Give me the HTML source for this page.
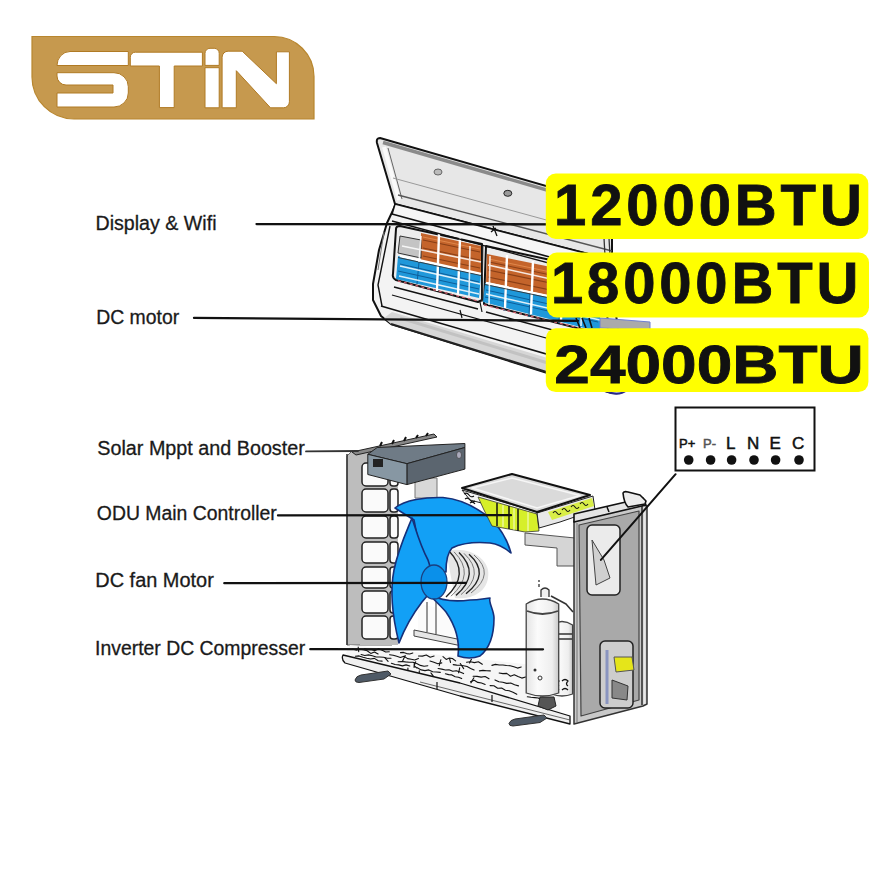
<!DOCTYPE html>
<html><head><meta charset="utf-8">
<style>
html,body{margin:0;padding:0;background:#fff;}
body{width:890px;height:890px;overflow:hidden;position:relative;font-family:"Liberation Sans",sans-serif;}
svg{position:absolute;left:0;top:0;}
.lbl{font-family:"Liberation Sans",sans-serif;font-size:20px;fill:#1a1a1a;stroke:#1a1a1a;stroke-width:0.3px;}
.btu{font-family:"Liberation Sans",sans-serif;font-weight:bold;font-size:58px;fill:#111;stroke:#111;stroke-width:0.8px;}
</style></head>
<body>
<svg width="890" height="890" viewBox="0 0 890 890">
<!-- LOGO -->
<g id="logo">
<path d="M32,36.5 H274 A40,40 0 0 1 314,76.5 V119 H74 A42,42 0 0 1 32,77 Z" fill="#C6994E" stroke="#B8862E" stroke-width="1.2"/>
<g fill="#fff" stroke="#B07A24" stroke-width="1">
<path d="M57,65.5 A13,14 0 0 1 70,51.5 H128.3 V65.5 Z"/>
<path d="M57,72.7 H114 A14.3,14 0 0 1 128.3,86.7 V93 A14.3,14 0 0 1 114,107 H57 V93 H113 V85 H66 A9,9 0 0 1 57,76 Z"/>
<path d="M130.3,66 V57.2 A5,5 0 0 1 135.3,52.2 H202.4 V66 H174.2 V107.6 H159.4 V66 Z"/>
<path d="M205,65.4 V53.3 A5,5 0 0 1 210,48.3 H214.2 A5,5 0 0 1 219.2,53.3 V65.4 Z"/>
<path d="M205,67.7 H219.2 V107.8 H205 Z"/>
<path d="M222.1,107.8 V57.2 A6,6 0 0 1 228.1,51.2 H242.2 L276.4,83.7 V51.8 H289.4 V101.8 A6,6 0 0 1 283.4,107.8 H270.5 L236.3,70.7 V107.8 Z"/>
</g>
</g>

<!-- INDOOR UNIT -->
<g id="idu" stroke-linejoin="round">
<!-- body -->
<path d="M395,206 L612,262 L614,300 L626,388 Q620,396 608,392 L391,324 L381,316 L373,300 L373,284 L379,250 L387,223 Z" fill="#f3f3f3" stroke="#111" stroke-width="2"/>
<!-- underside strip -->
<path d="M392,312 L622,380 L624,392 L616,394 L391,324 L384,318 Z" fill="#d6d6d6"/>
<path d="M400,318 L620,385" stroke="#c2c2c2" stroke-width="3" fill="none"/>
<path d="M381,306 L622,376" stroke="#111" stroke-width="1.6" fill="none"/>
<path d="M391,324 L608,391" stroke="#222" stroke-width="2" fill="none"/><path d="M606,391 Q618,397 627,390" stroke="#2a2a8a" stroke-width="2" fill="none"/>
<path d="M390,226 L378,285 L382,306" stroke="#111" stroke-width="1.4" fill="none"/>
<path d="M384,232 L378,270" stroke="#777" stroke-width="1" fill="none"/>
<!-- chamber frames -->
<path d="M396,229 Q396,226 400,226 L482,244 L482,300 L478,302 L396,280 Q392,278 393,274 Z" fill="#ececec" stroke="#111" stroke-width="2"/>
<path d="M486,246 L606,272 L608,336 L484,304 Z" fill="#ececec" stroke="#111" stroke-width="2"/>
<!-- copper -->
<path d="M421,233 L481,246 L481,274 L421,261 Z" fill="#C4642B"/>
<path d="M487,254 L600,277 L600,306 L486,282 Z" fill="#C4642B"/>
<g stroke="#8a3f16" stroke-width="1.1" fill="none">
<path d="M423,240 L480,252 M423,248 L480,260 M423,256 L480,268 M489,262 L598,285 M488,270 L598,293 M488,277 L598,300"/>
</g>
<g stroke="#e0874a" stroke-width="1" fill="none">
<path d="M423,237 L480,249 M489,259 L598,282"/>
</g>
<!-- grey box left -->
<path d="M400,236 L421,240 L421,258 L398,253 Z" fill="#c4c4c4" stroke="#333" stroke-width="1"/>
<!-- blue -->
<path d="M398,256 L481,274 L479,298 L396,279 Z" fill="#1F98DA"/>
<path d="M485,283 L600,307 L600,332 L483,302 Z" fill="#1F98DA"/>
<g stroke="#0d5e9a" stroke-width="1" fill="none">
<path d="M400,264 L479,282 M398,271 L479,289 M486,290 L598,315 M485,297 L598,322"/>
<path d="M419,262 L417,284 M440,266 L438,289 M460,270 L459,294 M505,288 L504,311 M530,293 L529,317 M560,299 L559,323"/>
</g>
<!-- white grille dividers -->
<g stroke="#fff" stroke-width="2.4" fill="none">
<path d="M439,234 L437,291 M460,238 L458,296 M507,255 L505,308 M533,261 L531,314 M563,267 L561,320"/>
<path d="M400,256 L481,274 M486,283 L600,307"/>
</g>
<g stroke="#333" stroke-width="0.9" fill="none">
<path d="M398,257.5 L481,275.5 M485,284.5 L600,308.5"/>
<path d="M483,246 L482,302"/>
</g>
<g stroke="#fff" stroke-width="1.6" fill="none" opacity="0.85">
<path d="M402,246 L481,262 M400,266 L480,284 M399,276 L479,294 M488,265 L600,290 M486,294 L600,320"/>
<path d="M421,236 L419,262 M470,246 L469,296 M490,256 L489,305 M582,276 L581,326"/>
</g>
<!-- pink dashes at bottom of chambers -->
<path d="M398,281 L478,301 M484,305 L600,333" stroke="#d06070" stroke-width="1.3" stroke-dasharray="3,3" fill="none"/>
<!-- body lines under chambers -->
<path d="M394,287 L478,309 M486,312 L612,346" stroke="#111" stroke-width="1.5" fill="none"/>
<path d="M392,295 L614,357" stroke="#111" stroke-width="1.2" fill="none"/>
<path d="M480,302 L482,312 M460,310 L462,318" stroke="#111" stroke-width="1.2" fill="none"/>
<!-- lid -->
<path d="M380,138 L612,205 L612,260 L395,204 L377,143 Q376,138 380,138 Z" fill="#e7e7e7" stroke="#111" stroke-width="2"/>
<path d="M383,142.5 L612,209" stroke="#8a8a8a" stroke-width="3.5" fill="none"/>
<path d="M384,147 L399,200" stroke="#fafafa" stroke-width="4" fill="none"/>
<path d="M388,148 L402,199" stroke="#666" stroke-width="1" fill="none"/>
<path d="M393,178 L612,238" stroke="#9a9a9a" stroke-width="1" fill="none"/>
<path d="M398,195 L612,251" stroke="#555" stroke-width="1.3" fill="none"/>
<ellipse cx="438" cy="172" rx="4" ry="3" fill="#bbb" stroke="#666" stroke-width="1"/>
<ellipse cx="507.8" cy="193.3" rx="4" ry="3" fill="#999" stroke="#222" stroke-width="1"/>
<!-- hinge strip between lid and body -->
<path d="M395,204 L612,260 L612,274 L392,214 Z" fill="#f6f6f6" stroke="#111" stroke-width="1.6"/>
<path d="M392,221 L612,280" stroke="#111" stroke-width="1.3" fill="none"/>
<path d="M493,226 L497,236 M491,232 L496,228" stroke="#111" stroke-width="1.3" fill="none"/>
<path d="M604,238 L605,256 M609,238 L610,256" stroke="#333" stroke-width="1.3"/>
<path d="M576,318 L580,328 M582,318 L586,328 M589,318 L592,328" stroke="#111" stroke-width="1.6"/>
<!-- grey bar between box2/3 -->
<path d="M600,318 L650,322 L650,330 L600,328 Z" fill="#aaa" stroke="#6f7fd0" stroke-width="1"/>
</g>

<!-- OUTDOOR UNIT -->
<g id="odu" stroke-linejoin="round">
<!-- back inner (behind everything): light -->
<!-- left frame grey -->
<path d="M347,456 L352,451 L392,452 L392,645 L347,645 Z" fill="#bdbdbd" stroke="#666" stroke-width="1"/>
<path d="M352,452 L434,434 L437,437 L356,455 Z" fill="#888" stroke="#222" stroke-width="1"/>
<path d="M380,446 L382,442 M392,444 L394,440 M404,441 L406,437 M416,438 L418,435 M426,436 L428,433" stroke="#111" stroke-width="2"/>
<path d="M360,458 L392,456 L398,456 L398,645 L360,645 Z" fill="#bdbdbd"/>
<g fill="#fafafa" stroke="#222" stroke-width="1.5">
<rect x="362" y="463" width="26" height="23" rx="4"/>
<rect x="362" y="489" width="26" height="23" rx="4"/>
<rect x="362" y="516" width="26" height="22" rx="4"/>
<rect x="362" y="542" width="26" height="21" rx="4"/>
<rect x="362" y="567" width="26" height="21" rx="4"/>
<rect x="362" y="591" width="26" height="22" rx="4"/>
<rect x="362" y="616" width="26" height="23" rx="4"/>
<rect x="390" y="463" width="8" height="23" rx="3"/>
<rect x="390" y="489" width="8" height="23" rx="3"/>
<rect x="390" y="516" width="8" height="22" rx="3"/>
<rect x="390" y="542" width="8" height="21" rx="3"/>
<rect x="390" y="567" width="8" height="21" rx="3"/>
<rect x="390" y="591" width="8" height="22" rx="3"/>
<rect x="390" y="616" width="8" height="23" rx="3"/>
</g>
<path d="M347,454 L347,645" stroke="#333" stroke-width="1.5"/>
<!-- base tray -->
<path d="M350,645 L560,668 L560,714 L460,683 L345,655 Z" fill="#f6f6f6"/>
<g stroke="#111" stroke-width="1.1" fill="none" stroke-linecap="round">
<path d="M364.5,648.9 L368.0,649.8 L371.6,649.7 L375.1,650.6 L378.6,648.7 L382.2,650.3 L385.7,652.0 L389.3,651.7"/>
<path d="M400.5,652.6 L403.6,652.4 L406.6,653.6 L409.7,654.0 L412.8,653.0"/>
<path d="M418.5,656.0 L422.4,656.1 L426.3,655.0 L430.2,657.2 L434.1,656.0"/>
<path d="M443.0,656.7 L446.2,659.4 L449.3,658.1 L452.4,658.5 L455.6,660.9"/>
<path d="M466.5,662.2 L470.5,661.7 L474.4,662.6 L478.4,661.8 L482.3,664.3"/>
<path d="M491.9,665.4 L495.5,664.4 L499.2,665.0 L502.9,665.0 L506.5,665.5 L510.2,665.7 L513.9,666.8 L517.5,668.1 L521.2,667.0"/>
<path d="M530.6,669.1 L534.0,670.9 L537.3,670.4 L540.7,670.5 L544.0,671.3 L547.4,672.4"/>
<path d="M551.8,671.2 L555.5,673.6"/>
<path d="M352.4,648.9 L356.0,650.1 L359.7,649.2 L363.4,649.8 L367.1,650.8 L370.8,653.4 L374.4,652.0 L378.1,654.0"/>
<path d="M389.6,654.7 L393.2,655.3 L396.8,656.3 L400.4,657.5 L404.0,656.3 L407.6,658.6 L411.2,659.3 L414.8,660.0 L418.4,658.4"/>
<path d="M430.0,661.0 L433.9,662.3 L437.8,663.8 L441.8,662.9"/>
<path d="M453.2,664.6 L456.7,665.1 L460.1,665.3 L463.6,665.7 L467.1,666.5 L470.6,668.5 L474.1,670.0"/>
<path d="M479.4,670.9 L483.0,670.4 L486.7,670.7 L490.3,670.9"/>
<path d="M499.1,673.0 L502.9,673.6 L506.7,673.4 L510.5,676.3 L514.3,674.7 L518.0,676.5 L521.8,678.1 L525.6,677.0"/>
<path d="M535.5,680.0 L539.1,681.1 L542.7,680.0 L546.3,681.5 L550.0,681.4 L553.6,683.8"/>
<path d="M361.1,654.5 L364.8,655.5 L368.6,654.9 L372.3,655.7 L376.1,657.0 L379.8,657.0 L383.6,657.2 L387.3,658.2 L391.0,658.3"/>
<path d="M398.1,661.7 L401.8,661.5 L405.5,661.9 L409.2,662.2 L412.9,662.2 L416.7,663.4 L420.4,665.4 L424.1,666.3 L427.8,665.7"/>
<path d="M438.1,668.5 L441.8,669.1 L445.4,670.0 L449.0,669.7 L452.7,671.3 L456.3,670.8 L460.0,672.1 L463.6,673.6"/>
<path d="M473.1,676.2 L477.1,676.4 L481.1,677.1 L485.1,676.5 L489.0,678.8"/>
<path d="M495.0,679.9 L498.9,681.7 L502.8,682.2 L506.7,683.4 L510.7,683.1 L514.6,684.8 L518.5,685.9"/>
<path d="M529.1,688.6 L532.5,689.4 L535.9,689.7 L539.3,691.2 L542.7,692.0 L546.1,691.6"/>
<path d="M355.3,656.3 L359.1,655.9 L363.0,657.3 L366.8,658.2 L370.6,659.0 L374.4,658.4 L378.2,660.8 L382.1,661.1"/>
<path d="M391.4,663.3 L395.1,664.5 L398.7,664.9 L402.4,665.9 L406.1,664.9 L409.8,666.0"/>
<path d="M417.3,667.8 L421.2,669.9 L425.0,670.6 L428.8,669.9 L432.7,671.8 L436.5,672.0 L440.3,672.4"/>
<path d="M445.4,673.8 L448.7,674.6 L451.9,674.9 L455.2,676.7 L458.5,677.2 L461.7,678.6"/>
<path d="M470.5,681.7 L474.2,680.3 L477.8,682.4 L481.5,683.0 L485.2,684.4"/>
<path d="M490.1,685.6 L493.9,685.8 L497.7,688.3 L501.6,688.0 L505.4,690.2 L509.2,690.7 L513.0,692.3 L516.8,694.3"/>
<path d="M527.3,696.8 L531.0,697.3 L534.7,697.6 L538.3,698.0 L542.0,700.2 L545.7,701.1"/>
<path d="M543.9,689.7 L542.7,695.2"/>
<path d="M358.2,647.1 L358.7,651.6"/>
<path d="M385.0,657.8 L388.1,661.4"/>
<path d="M440.9,659.7 L439.2,665.6"/>
<path d="M430.9,672.9 L434.2,677.3"/>
<path d="M407.9,668.1 L407.9,671.8"/>
<path d="M419.3,670.7 L419.2,673.9"/>
<path d="M449.6,658.6 L450.5,662.4"/>
<path d="M414.3,666.0 L416.9,668.0"/>
<path d="M460.3,663.5 L463.7,668.6"/>
<path d="M405.2,655.5 L402.4,661.5"/>
<path d="M414.3,662.9 L414.1,667.5"/>
<path d="M473.9,677.8 L470.9,682.9"/>
<path d="M415.7,661.8 L414.4,665.0"/>
<path d="M459.7,667.8 L458.6,672.8"/>
<path d="M471.4,659.2 L469.5,663.0"/>
</g>
<path d="M343,655 L460,683 L570,716 L570,724 L460,696 L345,663 Q341,659 343,655 Z" fill="#f0f0f0" stroke="#111" stroke-width="1.3"/>
<path d="M420,682 L570,720" stroke="#444" stroke-width="0.8" fill="none"/>
<path d="M437,682 L437,689 M492,695 L492,702" stroke="#111" stroke-width="1.2"/>
<!-- feet -->
<path d="M355,680 Q356,676 361,675 L388,671 L391,674 L384,679 L359,682.5 Q355,682.5 355,680 Z" fill="#4f5a66" stroke="#333" stroke-width="1"/>
<path d="M509,723.5 Q510,720 515,719 L544,715 L547,718 L540,722.5 L513,726 Q509,726 509,723.5 Z" fill="#4f5a66" stroke="#333" stroke-width="1"/>
<!-- column under solar box -->
<rect x="415" y="478" width="22" height="20" fill="#d8d8d8" stroke="#777" stroke-width="1"/>
<!-- right-side inner (behind compressor) bracket -->
<path d="M525,533 L575,538 L575,566 L557,566 L557,548 L525,545 Z" fill="#d5d5d5" stroke="#555" stroke-width="1"/>
<!-- motor -->
<path d="M446,551 C470,545 492,560 488,578 C486,592 472,600 455,598 Z" fill="#e6e6e6"/>
<path d="M449,551.0 Q471,574 446,597.0" stroke="#222" stroke-width="1.4" fill="none"/>
<path d="M454,551.8 Q476,574 451,596.2" stroke="#777" stroke-width="1" fill="none"/>
<path d="M459,552.6 Q481,574 456,595.4" stroke="#222" stroke-width="1.4" fill="none"/>
<path d="M464,553.4 Q486,574 461,594.6" stroke="#777" stroke-width="1" fill="none"/>
<path d="M469,554.2 Q491,574 466,593.8" stroke="#222" stroke-width="1.4" fill="none"/>
<path d="M474,555.0 Q496,574 471,593.0" stroke="#777" stroke-width="1" fill="none"/>
<!-- back structure behind fan -->
<path d="M418,604 L418,636 L462,646 L462,612" fill="#fbfbfb" stroke="none"/>
<path d="M427,602 L427,632 M436,602 L436,634" stroke="#777" stroke-width="1.5" fill="none"/>
<path d="M414,630 L462,640 L462,646 L414,636 Z" fill="#e6e6e6" stroke="#444" stroke-width="1"/>
<!-- fan -->
<g fill="#12A0F6" stroke="#15307a" stroke-width="1.6">
<!-- upper blade -->
<path d="M395,508 C405,500 425,497 443,497.5 C460,499 478,508 492,520 C502,530 508,542 511,553 C505,548 498,544 490,543 C478,542 462,543 452,548 C447,553 446,562 446,572 L425,570 C420,556 418,540 414,520 Z"/>
<!-- left blade -->
<path d="M412,518 C405,535 398,550 394,570 C390,590 392,615 399,643 C404,630 412,615 422,602 C428,595 432,590 436,585 L428,560 C420,545 416,530 412,518 Z"/>
<!-- lower-right blade -->
<path d="M430,595 C440,600 455,602 470,600 C480,600 486,598 490,598 C488,602 494,610 494,618 C494,635 490,648 480,656 C472,659 464,658 458,656 C460,640 455,625 446,612 C440,605 434,600 430,595 Z"/>
<!-- hub -->
<ellipse cx="434" cy="582" rx="13" ry="17" fill="#0a90ea" stroke="#1a3f80" stroke-width="1.3"/>
</g>
<!-- solar box -->
<path d="M367.8,454.3 L377.2,447.5 L464.9,443.5 L464.9,447.5 L406.9,463.7 Z" fill="#6f7b86" stroke="#222" stroke-width="1"/>
<path d="M406.9,463.7 L464.9,447.5 L464.9,469.1 L406.9,484.6 Z" fill="#5b656f" stroke="#222" stroke-width="1"/>
<path d="M367.8,454.3 L406.9,463.7 L406.9,484.6 L367.8,474.5 Z" fill="#8797a3" stroke="#222" stroke-width="1"/>
<rect x="373" y="459" width="10" height="8" fill="#222"/>
<ellipse cx="459" cy="455" rx="2.5" ry="3.5" fill="#aab" stroke="#333" stroke-width="0.6"/>
<!-- controller board -->
<path d="M462,490 L537,512 L539,518 L470,500 Z" fill="#f4f4f4" stroke="#222" stroke-width="1"/>
<path d="M478,497 L537,514 L539,531 L525,532 L492,526 L484,510 Z" fill="#D6EF2A" stroke="#333" stroke-width="0.8"/>
<path d="M537,513 L593,496 L595,510 L560,522 L539,528 Z" fill="#e8e8e8" stroke="#222" stroke-width="1"/>
<path d="M548,512 L592,498 L594,506 L552,520 Z" fill="#D6EF2A" opacity="0.85"/>
<g stroke="#111" stroke-width="1.1" fill="none"><path d="M553,513 q2,-3 4,0 q2,3 4,0 M562,510 q2,-3 4,0 q2,3 4,0 M571,507 q2,-3 4,0 q2,3 4,0 M580,504 q2,-3 4,0 q2,3 4,0"/>
<path d="M464,494 q3,-2 5,1 q2,3 5,1 M465,499 q3,-2 5,1 q2,3 5,1 M470,503 q3,-2 5,1"/></g>
<path d="M462,488 L512,474 L590,495 L537,512 Z" fill="#dadada" stroke="#111" stroke-width="2"/>
<path d="M472,488 L512,478 L580,495.5 L537,508 Z" fill="none" stroke="#f6f6f6" stroke-width="1.6"/>
<g stroke="#111" stroke-width="1.5"><path d="M497,503 L497,526 M509,506 L509,529 M518,509 L518,531"/></g>
<g stroke="#fff" stroke-width="0.8"><path d="M503,505 L503,527 M514,508 L514,530 M528,512 L528,531"/></g>
<!-- compressors -->
<defs>
<linearGradient id="cyl" x1="0" y1="0" x2="1" y2="0">
<stop offset="0" stop-color="#e4e4e4"/><stop offset="0.35" stop-color="#fbfbfb"/><stop offset="0.8" stop-color="#eeeeee"/><stop offset="1" stop-color="#c8c8c8"/>
</linearGradient>
</defs>
<path d="M551.4,625 Q562,618 572.6,625 L572.6,694 Q562,698 551.4,694 Z" fill="url(#cyl)" stroke="#444" stroke-width="1.3"/>
<path d="M552,634 L572,634 M552,639 L572,639" stroke="#333" stroke-width="1.4"/>
<path d="M553,681 q3,-3 6,0 q-3,3 0,5 M562,681 q3,-3 6,0 q-3,3 0,5 M553,690 q3,-3 6,0 M562,690 q3,-3 6,0" stroke="#111" stroke-width="1.3" fill="none"/>
<path d="M526.2,604 Q542.5,594 558.7,604 L558.7,693 Q542.5,699 526.2,693 Z" fill="url(#cyl)" stroke="#444" stroke-width="1.3"/>
<path d="M527,611 Q542.5,617 558,611" stroke="#444" stroke-width="1.8" fill="none"/>
<path d="M540,697 L538,706 L548,710 L556,706 L554,697 Z" fill="#555" stroke="#222" stroke-width="1"/>
<circle cx="535" cy="670" r="1.5" fill="#333"/>
<circle cx="540" cy="678" r="2" fill="none" stroke="#333" stroke-width="1"/>
<path d="M541,597 L541,590 Q545,586 549,590 L549,597" stroke="#333" stroke-width="1.3" fill="#f0f0f0"/>
<path d="M539,584 L539,587 M539,580 L539,582" stroke="#333" stroke-width="1.3"/>
<path d="M551,596 L566,604 L573,612" stroke="#333" stroke-width="1.6" fill="none"/>
<!-- right panel -->
<path d="M574,521 L643,505 L647,506 L647,704 L643,706 L574,724 Z" fill="#c9c9c9" stroke="#333" stroke-width="1.5"/>
<path d="M579,525 L639,511 L639,700 L581,716 Z" fill="#a9a9a9" stroke="#444" stroke-width="1.2"/>
<path d="M642,506 L642,705" stroke="#222" stroke-width="1.4"/>
<path d="M644.5,507 L644.5,704" stroke="#e8e8e8" stroke-width="2"/>
<path d="M577,523 L577,722" stroke="#777" stroke-width="1"/>
<rect x="587" y="525" width="33" height="70" rx="5" fill="#ebebeb" stroke="#222" stroke-width="1.5"/>
<path d="M592,540 L604,560 L610,578 L596,585 Z" fill="#d0d0d0" stroke="#444" stroke-width="1"/>
<rect x="600" y="641" width="33" height="67" rx="5" fill="#cdcdcd" stroke="#222" stroke-width="1.5"/>
<path d="M614,657 L632,657 L634,670 L616,672 Z" fill="#e5e51a" stroke="#555" stroke-width="1"/>
<path d="M607,650 L607,704" stroke="#8a95c0" stroke-width="3"/>
<path d="M612,680 L628,686 L627,700 L612,698 Z" fill="#888" stroke="#333" stroke-width="1"/>
<path d="M574,514 L643,498 L646,505 L574,522 Z" fill="#e4e4e4" stroke="#111" stroke-width="1.6"/>
<path d="M607,507 L609,512" stroke="#111" stroke-width="1.5"/>
<path d="M623,493 Q624,491 628,492 L640,495 L646,501 L645,504 L628,507 Q624,503 623,493 Z" fill="#ececec" stroke="#111" stroke-width="1.6"/>
</g>

<!-- LABELS -->
<g class="lbl">
<text x="95.5" y="230.3" textLength="121" lengthAdjust="spacingAndGlyphs">Display &amp; Wifi</text>
<text x="96.2" y="323.6" textLength="83" lengthAdjust="spacingAndGlyphs">DC motor</text>
<text x="97.3" y="455.2" textLength="207.5" lengthAdjust="spacingAndGlyphs">Solar Mppt and Booster</text>
<text x="96.8" y="520.3" textLength="180" lengthAdjust="spacingAndGlyphs">ODU Main Controller</text>
<text x="95.3" y="587" textLength="118.5" lengthAdjust="spacingAndGlyphs">DC fan Motor</text>
<text x="95" y="655" textLength="210.2" lengthAdjust="spacingAndGlyphs">Inverter DC Compresser</text>
</g>

<!-- LEADER LINES -->
<g stroke="#111" stroke-width="2.3" stroke-linecap="round">
<line x1="256.5" y1="224.1" x2="560" y2="224.3"/>
<line x1="194" y1="317.9" x2="578" y2="320.8"/>
<line x1="306" y1="451.4" x2="358" y2="451" stroke="#333" stroke-width="1.8"/>
<line x1="278" y1="515.4" x2="511" y2="515.2"/>
<line x1="224.3" y1="583.2" x2="466" y2="582.8"/>
<line x1="310.3" y1="649.2" x2="543" y2="649.3"/>
<line x1="675.6" y1="474.2" x2="600.9" y2="559.9" stroke-width="2"/>
</g>
<!-- YELLOW BOXES -->
<g fill="#FFFF00">
<rect x="545.8" y="173.5" width="322.5" height="65.5" rx="10"/>
<rect x="546.8" y="252.6" width="322.2" height="64.9" rx="10"/>
<rect x="545.8" y="328.3" width="322.6" height="63.8" rx="10"/>
</g>
<g class="btu">
<text x="554" y="224.6" textLength="307.8" lengthAdjust="spacing">12000BTU</text>
<text x="551" y="302.6" textLength="307.3" lengthAdjust="spacing">18000BTU</text>
<text x="554.3" y="383" textLength="309.5" lengthAdjust="spacingAndGlyphs" font-size="54.5">24000BTU</text>
</g>

<!-- TERMINAL BOX -->
<g>
<rect x="675.5" y="407.5" width="139" height="63" fill="#fff" stroke="#111" stroke-width="2"/>
<g font-family="'Liberation Sans', sans-serif" font-size="13" fill="#111" stroke="#111" stroke-width="0.5">
<text x="679" y="447.5">P+</text>
<text x="703" y="447.5" fill="#555" stroke="#555">P-</text>
<text x="726" y="448.5" font-size="17">L</text>
<text x="747" y="448.5" font-size="17">N</text>
<text x="769.5" y="448.5" font-size="17">E</text>
<text x="792" y="448.5" font-size="17">C</text>
</g>
<g fill="#111">
<circle cx="688.7" cy="460" r="4.8"/>
<circle cx="710.6" cy="460" r="4.8"/>
<circle cx="731.6" cy="460" r="4.8"/>
<circle cx="754" cy="460" r="4.8"/>
<circle cx="775.6" cy="460" r="4.8"/>
<circle cx="799" cy="460" r="4.8"/>
</g>
</g>
</svg>
</body></html>
